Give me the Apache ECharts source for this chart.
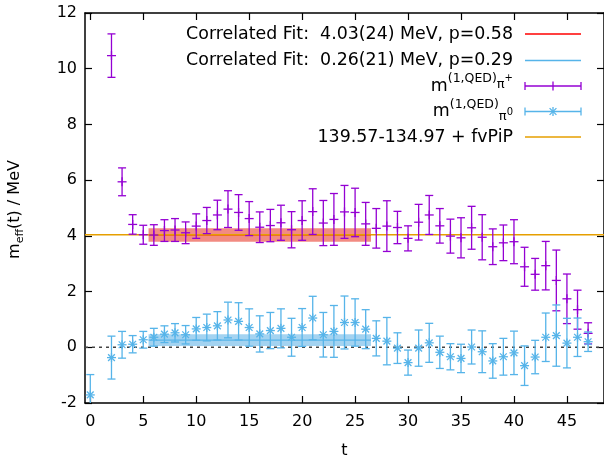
<!DOCTYPE html>
<html>
<head>
<meta charset="utf-8">
<script src="https://cdn.jsdelivr.net/npm/echarts@6/dist/echarts.min.js"></script>
<style>html,body{margin:0;padding:0;background:#fff}#c{width:604px;height:464px}</style>
</head>
<body>
<div id="c"></div>
<script>
// ---- data ----
const xTicks = [0, 5, 10, 15, 20, 25, 30, 35, 40, 45];
const tPurple = [2,3,4,5,6,7,8,9,10,11,12,13,14,15,16,17,18,19,20,21,22,23,24,25,26,27,28,29,30,31,32,33,34,35,36,37,38,39,40,41,42,43,44,45,46,47];
const mPurple = [10.47,5.94,4.41,4.04,4.03,4.19,4.21,4.11,4.35,4.55,4.75,4.96,4.84,4.62,4.31,4.37,4.47,4.22,4.55,4.87,4.46,4.59,4.86,4.84,4.43,4.27,4.35,4.30,3.91,4.49,4.75,4.36,3.99,3.93,4.29,3.95,3.61,3.75,3.79,2.89,2.62,2.93,2.40,1.74,1.35,0.50];
const ePurple = [0.78,0.50,0.35,0.34,0.37,0.39,0.41,0.39,0.44,0.47,0.53,0.66,0.64,0.61,0.55,0.58,0.63,0.65,0.71,0.82,0.81,0.93,0.95,0.87,0.77,0.71,0.91,0.58,0.45,0.64,0.70,0.62,0.61,0.72,0.77,0.81,0.64,0.64,0.79,0.70,0.57,0.87,1.09,0.89,0.70,0.38];
const tBlue = [0,2,3,4,5,6,7,8,9,10,11,12,13,14,15,16,17,18,19,20,21,22,23,24,25,26,27,28,29,30,31,32,33,34,35,36,37,38,39,40,41,42,43,44,45,46,47];
const mBlue = [-1.71,-0.37,0.09,0.11,0.27,0.36,0.47,0.52,0.45,0.66,0.71,0.77,0.98,0.93,0.71,0.48,0.60,0.68,0.36,0.71,1.05,0.45,0.57,0.89,0.89,0.65,0.32,0.22,-0.03,-0.55,-0.03,0.16,-0.18,-0.34,-0.40,0.01,-0.16,-0.49,-0.34,-0.20,-0.66,-0.35,0.36,0.42,0.15,0.36,0.20];
const eBlue = [0.73,0.77,0.48,0.31,0.30,0.32,0.30,0.33,0.33,0.41,0.48,0.51,0.64,0.67,0.67,0.65,0.65,0.70,0.68,0.68,0.78,0.80,0.93,0.95,0.85,0.70,0.63,0.85,0.55,0.45,0.65,0.70,0.58,0.47,0.51,0.61,0.75,0.62,0.66,0.78,0.71,0.60,0.87,1.10,0.89,0.69,0.35];
const fitRange = [6, 26];
const fitPiPlus = [4.03, 0.24];
const fitPi0 = [0.26, 0.21];
const fvPiPValue = 4.04;
const xRange = [-0.5, 48.5];
const legendTexts = [
  'Correlated Fit:  4.03(24) MeV, p=0.58',
  'Correlated Fit:  0.26(21) MeV, p=0.29',
  '139.57-134.97 + fvPiP'
];

// ---- styles ----
const FONT = 'DejaVu Sans';
const PURPLE = '#9400d3', BLUE = '#56b4e9', ORANGE = '#e69f00', RED = '#ff0000';

function errRender(color, marker) {
  return function (params, api) {
    const x = api.value(0), y = api.value(1), e = api.value(2);
    const top = api.coord([x, y + e]);
    const bot = api.coord([x, y - e]);
    const c = api.coord([x, y]);
    const cw = 4, m = 4.5;
    const st = { stroke: color, lineWidth: 1.3 };
    const ch = [
      { type: 'line', shape: { x1: top[0], y1: top[1], x2: bot[0], y2: bot[1] }, style: st },
      { type: 'line', shape: { x1: top[0] - cw, y1: top[1], x2: top[0] + cw, y2: top[1] }, style: st },
      { type: 'line', shape: { x1: bot[0] - cw, y1: bot[1], x2: bot[0] + cw, y2: bot[1] }, style: st },
      { type: 'line', shape: { x1: c[0] - m, y1: c[1], x2: c[0] + m, y2: c[1] }, style: st },
      { type: 'line', shape: { x1: c[0], y1: c[1] - m, x2: c[0], y2: c[1] + m }, style: st }
    ];
    if (marker === 'star') {
      const d = m * 0.75;
      ch.push({ type: 'line', shape: { x1: c[0] - d, y1: c[1] - d, x2: c[0] + d, y2: c[1] + d }, style: st });
      ch.push({ type: 'line', shape: { x1: c[0] - d, y1: c[1] + d, x2: c[0] + d, y2: c[1] - d }, style: st });
    }
    return { type: 'group', children: ch };
  };
}
function bandRender(fill, line) {
  return function (params, api) {
    const t0 = api.value(0), t1 = api.value(1), v = api.value(2), e = api.value(3);
    const p0 = api.coord([t0 - 0.5, v + e]);
    const p1 = api.coord([t1 + 0.5, v - e]);
    const a = api.coord([t0 - 0.5, v]);
    const b = api.coord([t1 + 0.5, v]);
    return { type: 'group', children: [
      { type: 'rect', shape: { x: p0[0], y: p0[1], width: p1[0] - p0[0], height: p1[1] - p0[1] }, style: { fill: fill } },
      { type: 'line', shape: { x1: a[0], y1: a[1], x2: b[0], y2: b[1] }, style: { stroke: line, lineWidth: 1.2 } }
    ]};
  };
}

const purpleData = tPurple.map((t, i) => [t, mPurple[i], ePurple[i]]);
const blueData = tBlue.map((t, i) => [t, mBlue[i], eBlue[i]]);

const axisLineStyle = { color: '#000', width: 1.5 };
const tickStyle = { color: '#000', width: 1.2 };
const labelStyle = { fontFamily: FONT, fontSize: 16, color: '#000' };

// legend graphic
const LX = 513, SX0 = 525, SX1 = 581;
const rowY = [34, 60.5, 86, 111.5, 137];
const rich = {
  b: { fontFamily: FONT, fontSize: 17.4, color: '#000', lineHeight: 32 },
  sup: { fontFamily: FONT, fontSize: 12.5, color: '#000', lineHeight: 12, padding: [0, 0, 14, 0] },
  pi1: { fontFamily: FONT, fontSize: 13, color: '#000', lineHeight: 13, padding: [0, 0, 2, 0] },
  sup1: { fontFamily: FONT, fontSize: 10, color: '#000', lineHeight: 10, padding: [0, 0, 16, 0] },
  pi2: { fontFamily: FONT, fontSize: 13, color: '#000', lineHeight: 13, padding: [10, 0, 0, 0] },
  sup2: { fontFamily: FONT, fontSize: 10, color: '#000', lineHeight: 10, padding: [2, 0, 0, 0] }
};
function txt(y, text) {
  return { type: 'text', x: LX, y: y, style: { text: text, rich: rich, align: 'right', verticalAlign: 'middle', font: '17px ' + FONT, fill: '#000' } };
}
function seg(x1, y1, x2, y2, color) {
  return { type: 'line', shape: { x1, y1, x2, y2 }, style: { stroke: color, lineWidth: 1.3 } };
}
function errSample(y, color, star) {
  const xm = (SX0 + SX1) / 2;
  const arr = [seg(SX0, y, SX1, y, color), seg(SX0, y - 4, SX0, y + 4, color), seg(SX1, y - 4, SX1, y + 4, color),
    seg(xm, y - 4.5, xm, y + 4.5, color)];
  if (star) { arr.push(seg(xm - 3.4, y - 3.4, xm + 3.4, y + 3.4, color)); arr.push(seg(xm - 3.4, y + 3.4, xm + 3.4, y - 3.4, color)); }
  return arr;
}
const graphics = [
  txt(rowY[0], '{b|' + legendTexts[0] + '}'),
  seg(SX0, rowY[0], SX1, rowY[0], RED),
  txt(rowY[1], '{b|' + legendTexts[1] + '}'),
  seg(SX0, rowY[1], SX1, rowY[1], BLUE),
  txt(rowY[2], '{b|m}{sup|(1,QED)}{pi1|π}{sup1|+}'),
  ...errSample(rowY[2], PURPLE, false),
  txt(rowY[3], '{b|m}{sup|(1,QED)}{pi2|π}{sup2|0}'),
  ...errSample(rowY[3], BLUE, true),
  txt(rowY[4], '{b|' + legendTexts[2] + '}'),
  seg(SX0, rowY[4], SX1, rowY[4], ORANGE),
  { type: 'text', x: 15, y: 209.5, rotation: Math.PI / 2,
    style: { text: '{b|m}{s|eff}{b|(t) / MeV}', align: 'center', verticalAlign: 'middle',
      rich: { b: { fontFamily: FONT, fontSize: 16, color: '#000', lineHeight: 28 },
              s: { fontFamily: FONT, fontSize: 11, color: '#000', lineHeight: 11, padding: [10, 0, 0, 0] } } } }
];

const chart = echarts.init(document.getElementById('c'), null, { renderer: 'canvas' });
chart.setOption({
  animation: false,
  backgroundColor: '#fff',
  grid: { left: 85, right: -1, top: 13, bottom: 58, containLabel: false },
  xAxis: [
    { type: 'value', min: xRange[0], max: xRange[1], position: 'bottom',
      axisLine: { show: true, onZero: false, lineStyle: axisLineStyle },
      axisTick: { show: true, inside: true, length: 7, customValues: xTicks, lineStyle: tickStyle },
      axisLabel: { show: true, customValues: xTicks, margin: 11, ...labelStyle },
      splitLine: { show: false },
      name: 't', nameLocation: 'middle', nameGap: 40, nameTextStyle: { ...labelStyle } },
    { type: 'value', min: xRange[0], max: xRange[1], position: 'top',
      axisLine: { show: true, onZero: false, lineStyle: axisLineStyle },
      axisTick: { show: true, inside: true, length: 7, customValues: xTicks, lineStyle: tickStyle },
      axisLabel: { show: false }, splitLine: { show: false } }
  ],
  yAxis: [
    { type: 'value', min: -2, max: 12, interval: 2, position: 'left',
      axisLine: { show: true, onZero: false, lineStyle: axisLineStyle },
      axisTick: { show: true, inside: true, length: 7, lineStyle: tickStyle },
      axisLabel: { show: true, margin: 8, ...labelStyle },
      splitLine: { show: false } },
    { type: 'value', min: -2, max: 12, interval: 2, position: 'right',
      axisLine: { show: true, onZero: false, lineStyle: axisLineStyle },
      axisTick: { show: true, inside: true, length: 7, lineStyle: tickStyle },
      axisLabel: { show: false }, splitLine: { show: false } }
  ],
  series: [
    { type: 'custom', name: 'fitPlus', renderItem: bandRender('#f28b82', RED), data: [[fitRange[0], fitRange[1], fitPiPlus[0], fitPiPlus[1]]], z: 1, silent: true },
    { type: 'custom', name: 'fitZero', renderItem: bandRender('#a3d3f1', BLUE), data: [[fitRange[0], fitRange[1], fitPi0[0], fitPi0[1]]], z: 1, silent: true },
    { type: 'line', name: 'zero', data: [[xRange[0], 0], [xRange[1], 0]], symbol: 'none', z: 2,
      lineStyle: { color: '#444', width: 1.5, type: [3, 4] }, silent: true },
    { type: 'line', name: 'fvPiP', data: [[xRange[0], fvPiPValue], [xRange[1], fvPiPValue]], symbol: 'none', z: 3,
      lineStyle: { color: ORANGE, width: 1.5 }, silent: true },
    { type: 'custom', name: 'piPlus', renderItem: errRender(PURPLE, 'plus'), data: purpleData, clip: true, z: 4,
      encode: { x: 0, y: 1 } },
    { type: 'custom', name: 'pi0', renderItem: errRender(BLUE, 'star'), data: blueData, clip: true, z: 4,
      encode: { x: 0, y: 1 } }
  ],
  graphic: graphics
});
</script>
</body>
</html>
